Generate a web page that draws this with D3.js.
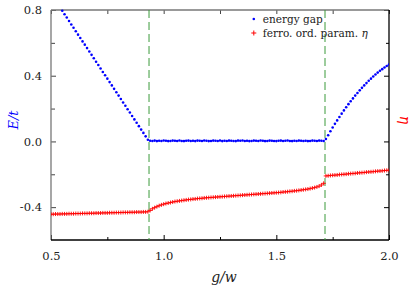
<!DOCTYPE html>
<html><head><meta charset="utf-8">
<script src="https://cdn.jsdelivr.net/npm/d3@7/dist/d3.min.js"></script>
<style>body{margin:0;background:#fff;} svg{display:block;} text{font-family:"DejaVu Serif",serif;}</style>
</head><body>
<svg id="c" width="415" height="291"></svg>
<script>
// ---- data ----
const gValues = [0.50,0.51,0.52,0.53,0.54,0.55,0.56,0.57,0.58,0.59,0.60,0.61,0.62,0.63,0.64,0.65,0.66,0.67,0.68,0.69,0.70,0.71,0.72,0.73,0.74,0.75,0.76,0.77,0.78,0.79,0.80,0.81,0.82,0.83,0.84,0.85,0.86,0.87,0.88,0.89,0.90,0.91,0.92,0.93,0.94,0.95,0.96,0.97,0.98,0.99,1.00,1.01,1.02,1.03,1.04,1.05,1.06,1.07,1.08,1.09,1.10,1.11,1.12,1.13,1.14,1.15,1.16,1.17,1.18,1.19,1.20,1.21,1.22,1.23,1.24,1.25,1.26,1.27,1.28,1.29,1.30,1.31,1.32,1.33,1.34,1.35,1.36,1.37,1.38,1.39,1.40,1.41,1.42,1.43,1.44,1.45,1.46,1.47,1.48,1.49,1.50,1.51,1.52,1.53,1.54,1.55,1.56,1.57,1.58,1.59,1.60,1.61,1.62,1.63,1.64,1.65,1.66,1.67,1.68,1.69,1.70,1.71,1.72,1.73,1.74,1.75,1.76,1.77,1.78,1.79,1.80,1.81,1.82,1.83,1.84,1.85,1.86,1.87,1.88,1.89,1.90,1.91,1.92,1.93,1.94,1.95,1.96,1.97,1.98,1.99,2.00];

const energyGap = [
 0.898,0.878,0.857,0.836,0.816,0.795,0.774,0.754,0.733,0.712,
 0.692,0.671,0.650,0.630,0.609,0.589,0.568,0.547,0.527,0.506,
 0.485,0.465,0.444,0.423,0.403,0.382,0.361,0.341,0.320,0.299,
 0.279,0.258,0.237,0.217,0.196,0.176,0.155,0.134,0.114,0.093,
 0.072,0.052,0.031,0.010,
 0.004,0.003,0.005,0.002,0.004,0.003,0.006,0.004,0.002,0.003,
 0.005,0.004,0.003,0.006,0.003,0.002,0.004,0.005,0.003,0.004,
 0.002,0.005,0.004,0.003,0.006,0.004,0.002,0.003,0.005,0.004,
 0.003,0.006,0.002,0.004,0.003,0.005,0.004,0.003,0.002,0.005,
 0.004,0.006,0.003,0.004,0.002,0.003,0.005,0.004,0.003,0.006,
 0.004,0.002,0.003,0.005,0.004,0.003,0.002,0.004,0.005,0.003,
 0.004,0.006,0.003,0.002,0.004,0.003,0.005,0.004,0.003,0.004,
 0.002,0.003,0.005,0.004,0.003,0.005,0.004,0.003,
 0.015,0.038,0.062,0.085,0.107,0.128,0.149,0.169,0.189,0.208,
 0.227,0.245,0.262,0.279,0.295,0.311,0.326,0.341,0.355,0.369,
 0.382,0.395,0.407,0.419,0.430,0.440,0.450,0.459,0.468];

const ferroParam = [
 -0.443,-0.443,-0.442,-0.442,-0.442,-0.441,-0.441,-0.441,-0.440,-0.440,
 -0.440,-0.439,-0.439,-0.439,-0.438,-0.438,-0.438,-0.437,-0.437,-0.437,
 -0.436,-0.436,-0.436,-0.435,-0.435,-0.435,-0.434,-0.434,-0.434,-0.433,
 -0.433,-0.433,-0.432,-0.432,-0.432,-0.431,-0.431,-0.431,-0.430,-0.430,
 -0.430,-0.429,-0.429,-0.428,
 -0.420,-0.410,-0.403,-0.397,-0.391,-0.386,-0.382,-0.378,-0.375,-0.372,
 -0.369,-0.366,-0.364,-0.362,-0.360,-0.358,-0.356,-0.354,-0.353,-0.351,
 -0.350,-0.348,-0.347,-0.346,-0.344,-0.343,-0.342,-0.341,-0.340,-0.339,
 -0.338,-0.337,-0.336,-0.335,-0.334,-0.333,-0.332,-0.331,-0.330,-0.329,
 -0.328,-0.327,-0.326,-0.325,-0.324,-0.323,-0.322,-0.321,-0.320,-0.319,
 -0.318,-0.317,-0.316,-0.315,-0.314,-0.313,-0.312,-0.311,-0.310,-0.308,
 -0.307,-0.306,-0.304,-0.303,-0.301,-0.300,-0.298,-0.296,-0.294,-0.292,
 -0.290,-0.287,-0.284,-0.281,-0.277,-0.272,-0.265,-0.255,
 -0.210,-0.209,-0.207,-0.206,-0.205,-0.204,-0.202,-0.201,-0.200,-0.199,
 -0.197,-0.196,-0.195,-0.194,-0.192,-0.191,-0.190,-0.189,-0.187,-0.186,
 -0.185,-0.184,-0.182,-0.181,-0.180,-0.179,-0.177,-0.176,-0.175];

const transitions = [0.935, 1.716];
const xMajorTicks = [0.5, 1.0, 1.5, 2.0];
const xTickLabels = ["0.5", "1.0", "1.5", "2.0"];
const xMinorTicks = [0.75, 1.25, 1.75];
const yMajorTicks = [-0.4, 0.0, 0.4, 0.8];
const yTickLabels = ["-0.4", "0.0", "0.4", "0.8"];
const yMinorTicks = [-0.2, 0.2, 0.6];
const legendLabels = ["energy gap", "ferro. ord. param. "];

// ---- layout ----
const W = 415, H = 291;
const m = {left: 51, right: 26, top: 10, bottom: 51};
const iw = W - m.left - m.right, ih = H - m.top - m.bottom;
const svg = d3.select("#c");
const g = svg.append("g").attr("transform", `translate(${m.left},${m.top})`);

const x = d3.scaleLinear().domain([0.5, 2.0]).range([0, iw]);
const y = d3.scaleLinear().domain([-0.6, 0.8]).range([ih, 0]);
const yR = d3.scaleLinear().domain([-0.6, 0.8]).range([ih, 0]);

const serif = '"DejaVu Serif", serif';

g.append("clipPath").attr("id", "clip").append("rect")
  .attr("x", 0).attr("y", -1).attr("width", iw).attr("height", ih + 1);

// axes
function styleAxis(sel, col) {
  sel.attr("font-family", null).attr("font-size", null);
  sel.select(".domain").remove();
  sel.selectAll(".tick line").attr("stroke", col).attr("stroke-width", 1);
  sel.selectAll(".tick text").style("font-family", serif).style("font-size", "11.5px").attr("fill", "#222");
}
const fmtX = (d) => xTickLabels[xMajorTicks.indexOf(d)];
const fmtY = (d) => yTickLabels[yMajorTicks.indexOf(d)];

g.append("g").attr("transform", `translate(0,${ih})`)
  .call(d3.axisBottom(x).tickValues(xMajorTicks).tickFormat(fmtX).tickSizeInner(-5).tickSizeOuter(0).tickPadding(12))
  .call(s => styleAxis(s, "#000"));
g.append("g").attr("transform", `translate(0,${ih})`)
  .call(d3.axisBottom(x).tickValues(xMinorTicks).tickFormat("").tickSizeInner(-3).tickSizeOuter(0))
  .call(s => styleAxis(s, "#000"));
g.append("g")
  .call(d3.axisTop(x).tickValues(xMajorTicks.concat(xMinorTicks)).tickFormat("").tickSizeInner(-4).tickSizeOuter(0))
  .call(s => styleAxis(s, "#444"));

g.append("g")
  .call(d3.axisLeft(y).tickValues(yMajorTicks).tickFormat(fmtY).tickSizeInner(-5).tickSizeOuter(0).tickPadding(9))
  .call(s => styleAxis(s, "#444"));
g.append("g")
  .call(d3.axisLeft(y).tickValues(yMinorTicks).tickFormat("").tickSizeInner(-4).tickSizeOuter(0))
  .call(s => styleAxis(s, "#444"));
g.append("g").attr("transform", `translate(${iw},0)`)
  .call(d3.axisRight(yR).tickValues(yMajorTicks).tickFormat("").tickSizeInner(-5).tickSizeOuter(0))
  .call(s => styleAxis(s, "#000"));
g.append("g").attr("transform", `translate(${iw},0)`)
  .call(d3.axisRight(yR).tickValues(yMinorTicks).tickFormat("").tickSizeInner(-3).tickSizeOuter(0))
  .call(s => styleAxis(s, "#000"));

// frame
g.append("line").attr("x1", 0).attr("x2", iw).attr("y1", 0).attr("y2", 0).attr("stroke", "#777").attr("stroke-width", 1.3);
g.append("line").attr("x1", 0).attr("x2", 0).attr("y1", 0).attr("y2", ih).attr("stroke", "#777").attr("stroke-width", 1.3);
g.append("line").attr("x1", 0).attr("x2", iw).attr("y1", ih).attr("y2", ih).attr("stroke", "#000").attr("stroke-width", 1.3);
g.append("line").attr("x1", iw).attr("x2", iw).attr("y1", 0).attr("y2", ih).attr("stroke", "#000").attr("stroke-width", 1.3);

const plot = g.append("g").attr("clip-path", "url(#clip)");

// transitions
plot.selectAll(".tr").data(transitions).enter().append("line")
  .attr("x1", d => x(d)).attr("x2", d => x(d)).attr("y1", 0).attr("y2", ih)
  .attr("stroke", "#3a9a3a").attr("stroke-width", 1).attr("stroke-dasharray", "8,4");

// ferro param (red crosses)
plot.selectAll(".fp").data(gValues.map((v, i) => [v, ferroParam[i]])).enter().append("path")
  .attr("transform", d => `translate(${x(d[0])},${yR(d[1])})`)
  .attr("d", "M-2.2,0H2.2M0,-2V2").attr("stroke", "#ff0000").attr("stroke-width", 0.9).attr("fill", "none");

// energy gap (blue dots)
plot.selectAll(".eg").data(gValues.map((v, i) => [v, energyGap[i]]).filter(d => d[1] <= 0.805)).enter().append("circle")
  .attr("cx", d => x(d[0])).attr("cy", d => y(d[1])).attr("r", 1.3).attr("fill", "#0000ff");

// legend
const lg = g.append("g").attr("transform", `translate(${x(1.4)},0)`);
lg.append("circle").attr("cx", 0).attr("cy", 9).attr("r", 1.3).attr("fill", "#0000ff");
lg.append("path").attr("transform", "translate(0,23)").attr("d", "M-2.5,0H2.5M0,-2.5V2.5").attr("stroke", "#ff0000").attr("stroke-width", 1);
lg.append("text").attr("x", 9).attr("y", 13).style("font-family", serif).style("font-size", "10.5px").attr("fill", "#222").text(legendLabels[0]);
const t2 = lg.append("text").attr("x", 9).attr("y", 27).style("font-family", serif).style("font-size", "10.5px").attr("fill", "#222").text(legendLabels[1]);
t2.append("tspan").attr("font-style", "italic").text("η");

// axis titles
svg.append("text").attr("x", 224).attr("y", 282).attr("text-anchor", "middle")
  .style("font-family", serif).attr("font-style", "italic").style("font-size", "14px").attr("fill", "#222").text("g/w");
svg.append("text").attr("transform", "translate(18,120) rotate(-90)").attr("text-anchor", "middle")
  .style("font-family", serif).attr("font-style", "italic").style("font-size", "13px").attr("fill", "#0000ff").text("E/t");
svg.append("text").attr("transform", "translate(400,120) rotate(90)").attr("text-anchor", "middle")
  .style("font-family", serif).attr("font-style", "italic").style("font-size", "14px").attr("fill", "#ff0000").text("η");
</script>
</body></html>
